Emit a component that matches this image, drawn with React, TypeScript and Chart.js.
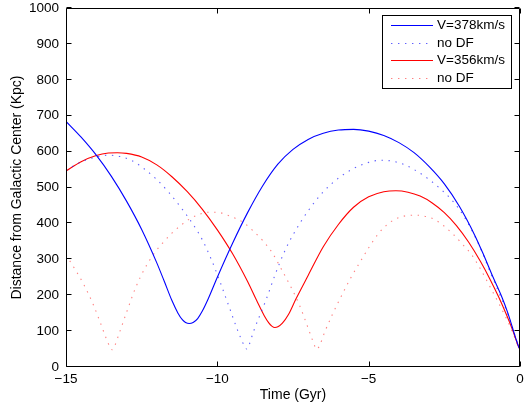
import React, { useEffect, useRef } from 'react';
import { Chart, registerables } from 'chart.js';

Chart.register(...registerables);

// V=378km/s (blue solid)
const blueTime = [-15, -14.5, -14, -13.5, -13, -12.5, -12, -11.75, -11.5, -11.3, -11.15, -11.05, -10.93, -10.8, -10.65, -10.5, -10.3, -10, -9.5, -9, -8.5, -8, -7.5, -7, -6.5, -6, -5.5, -5, -4.5, -4, -3.5, -3, -2.5, -2, -1.5, -1.2, -0.9, -0.6, -0.4, -0.25, -0.12, -0.04, 0];
const blueDist = [684, 640, 590, 531, 462, 383, 290, 238, 185, 150, 131, 124, 121, 124, 135, 155, 190, 250, 344, 430, 505, 565, 606, 634, 651, 660, 662, 657, 645, 625, 597, 558, 510, 447, 368, 312, 252, 195, 150, 110, 75, 56, 50];

// no DF (blue dotted)
const blueNoDfTime = [-15, -14.5, -14, -13.6, -13.2, -12.8, -12.4, -12, -11.6, -11.2, -10.8, -10.5, -10.2, -9.9, -9.6, -9.3, -9.1, -9.03, -8.95, -8.8, -8.6, -8.4, -8.1, -7.8, -7.5, -7, -6.5, -6, -5.5, -5, -4.6, -4.2, -3.8, -3.4, -3, -2.6, -2.2, -1.9, -1.6, -1.3, -1, -0.7, -0.45, -0.25, -0.12, -0.04, 0];
const blueNoDfDist = [548, 571, 585, 590, 586, 574, 551, 522, 486, 444, 397, 355, 300, 235, 165, 96, 58, 50, 62, 100, 143, 185, 255, 318, 368, 435, 488, 526, 553, 570, 576, 573, 563, 545, 522, 494, 460, 426, 382, 330, 268, 208, 158, 110, 76, 56, 50];

// V=356km/s (red solid)
const redTime = [-15, -14.5, -14, -13.6, -13.3, -13, -12.5, -12, -11.5, -11, -10.5, -10, -9.5, -9, -8.7, -8.45, -8.3, -8.2, -8.1, -8, -7.85, -7.65, -7.4, -7, -6.5, -6, -5.5, -5, -4.5, -4.1, -3.7, -3.3, -2.9, -2.5, -2.1, -1.7, -1.3, -1, -0.7, -0.45, -0.25, -0.12, -0.04, 0];
const redDist = [546, 572, 589, 596, 597, 595, 585, 563, 530, 489, 440, 382, 316, 238, 185, 143, 123, 114, 110, 112, 122, 146, 190, 255, 335, 397, 445, 474, 488, 491, 487, 476, 457, 430, 394, 348, 293, 246, 194, 146, 104, 73, 55, 50];

// no DF (red dotted)
const redNoDfTime = [-15, -14.7, -14.4, -14.1, -13.85, -13.65, -13.55, -13.48, -13.4, -13.25, -13, -12.7, -12.4, -12.1, -11.8, -11.5, -11.2, -10.9, -10.6, -10.3, -10, -9.7, -9.4, -9.1, -8.8, -8.5, -8.2, -7.9, -7.6, -7.3, -7.05, -6.9, -6.78, -6.72, -6.62, -6.45, -6.2, -5.9, -5.6, -5.3, -5, -4.7, -4.4, -4.1, -3.8, -3.45, -3.1, -2.8, -2.5, -2.2, -1.9, -1.6, -1.3, -1, -0.7, -0.45, -0.25, -0.12, -0.04, 0];
const redNoDfDist = [312, 272, 228, 174, 120, 75, 56, 48, 57, 92, 152, 221, 274, 315, 346, 373, 395, 413, 425, 431, 431, 424, 414, 400, 378, 352, 320, 275, 228, 175, 120, 85, 58, 49, 60, 98, 146, 198, 247, 290, 332, 369, 396, 413, 421, 423, 419, 410, 392, 369, 342, 313, 272, 225, 177, 135, 98, 70, 54, 50];

const seriesLabels = ['V=378km/s', 'no DF', 'V=356km/s', 'no DF'];
const xTicks = [-15, -10, -5, 0];
const yTicks = [0, 100, 200, 300, 400, 500, 600, 700, 800, 900, 1000];

const FONT = '"Liberation Sans", Arial, Helvetica, sans-serif';

const zip = (xs: number[], ys: number[]) => xs.map((x, i) => ({ x, y: ys[i] }));
const fmt = (v: number) => String(v).replace('-', '\u2212');

const BLUE = '#0000ff';
const RED = '#ff0000';
const BLUE_DOT = 'rgba(40,40,255,0.75)';
const RED_DOT = 'rgba(255,60,60,0.65)';
const DASH = [1.4, 5.6];

const framePlugin = {
  id: 'matlabFrame',
  afterDatasetsDraw(chart: any) {
    const { ctx, chartArea: a, scales } = chart;
    ctx.save();
    ctx.strokeStyle = '#000';
    ctx.lineWidth = 1;
    const L = Math.round(a.left) + 0.5;
    const R = Math.round(a.right) - 0.5;
    const T = Math.round(a.top) + 0.5;
    const B = Math.round(a.bottom) - 0.5;
    ctx.beginPath();
    ctx.rect(L, T, R - L, B - T);
    ctx.stroke();
    const tl = 5;
    ctx.beginPath();
    for (const v of xTicks) {
      const px = Math.round(scales.x.getPixelForValue(v)) + 0.5;
      ctx.moveTo(px, B); ctx.lineTo(px, B - tl);
      ctx.moveTo(px, T); ctx.lineTo(px, T + tl);
    }
    for (const v of yTicks) {
      const py = Math.round(scales.y.getPixelForValue(v)) - 0.5;
      ctx.moveTo(L, py); ctx.lineTo(L + tl, py);
      ctx.moveTo(R, py); ctx.lineTo(R - tl, py);
    }
    ctx.stroke();

    // legend
    const bx = 382.5, by = 15.5, bw = 129, bh = 73;
    ctx.fillStyle = '#fff';
    ctx.fillRect(bx, by, bw, bh);
    ctx.strokeStyle = '#000';
    ctx.lineWidth = 1;
    ctx.strokeRect(bx, by, bw, bh);
    const rows = [25.5, 43, 60.5, 78];
    const lineRows = [25.5, 43.5, 60.5, 78.5];
    const colors = [BLUE, BLUE_DOT, RED, RED_DOT];
    chart.data.datasets.forEach((ds: any, i: number) => {
      ctx.beginPath();
      ctx.strokeStyle = colors[i];
      ctx.lineWidth = 1.1;
      ctx.setLineDash(ds.borderDash ? ds.borderDash : []);
      ctx.moveTo(391, lineRows[i]);
      ctx.lineTo(433, lineRows[i]);
      ctx.stroke();
      ctx.setLineDash([]);
      ctx.fillStyle = '#000';
      ctx.font = `13.5px ${FONT}`;
      ctx.textAlign = 'left';
      ctx.textBaseline = 'middle';
      ctx.fillText(ds.label, 437, rows[i]);
    });
    ctx.restore();
  },
};

export default function App() {
  const ref = useRef<HTMLCanvasElement | null>(null);
  useEffect(() => {
    if (!ref.current) return;
    const tickFont = { family: FONT, size: 13.5 };
    const titleFont = { family: FONT, size: 14 };
    const chart = new Chart(ref.current, {
      type: 'line',
      data: {
        datasets: [
          { label: seriesLabels[0], data: zip(blueTime, blueDist), borderColor: BLUE, borderWidth: 1.1 },
          { label: seriesLabels[1], data: zip(blueNoDfTime, blueNoDfDist), borderColor: BLUE_DOT, borderWidth: 1.1, borderDash: DASH },
          { label: seriesLabels[2], data: zip(redTime, redDist), borderColor: RED, borderWidth: 1.1 },
          { label: seriesLabels[3], data: zip(redNoDfTime, redNoDfDist), borderColor: RED_DOT, borderWidth: 1.1, borderDash: DASH },
        ],
      } as any,
      options: {
        animation: false,
        responsive: false,
        maintainAspectRatio: false,
        layout: { padding: 0 },
        elements: {
          point: { radius: 0 },
          line: { cubicInterpolationMode: 'monotone', fill: false },
        },
        plugins: { legend: { display: false }, tooltip: { enabled: false } },
        scales: {
          x: {
            type: 'linear',
            min: -15,
            max: 0,
            afterBuildTicks: (s: any) => { s.ticks = xTicks.map((v) => ({ value: v })); },
            ticks: { callback: (v: any) => fmt(v), color: '#000', font: tickFont, padding: 4, maxRotation: 0, autoSkip: false },
            grid: { display: false, drawTicks: false },
            border: { display: false },
            title: { display: true, text: 'Time (Gyr)', color: '#000', font: titleFont, padding: 0 },
            afterFit: (s: any) => { s.height = 37; s.paddingLeft = 0; s.paddingRight = 4; },
          },
          y: {
            type: 'linear',
            min: 0,
            max: 1000,
            afterBuildTicks: (s: any) => { s.ticks = yTicks.map((v) => ({ value: v })); },
            ticks: { callback: (v: any) => fmt(v), color: '#000', font: tickFont, padding: 7, autoSkip: false },
            grid: { display: false, drawTicks: false },
            border: { display: false },
            title: { display: true, text: 'Distance from Galactic Center (Kpc)', color: '#000', font: titleFont, padding: { top: 9, bottom: 0 } },
            afterFit: (s: any) => { s.width = 66; s.paddingTop = 8; s.paddingBottom = 0; },
          },
        },
      } as any,
      plugins: [framePlugin],
    });
    return () => chart.destroy();
  }, []);
  return (
    <div style={{ position: 'fixed', left: 0, top: 0, width: 524, height: 404, background: '#fff' }}>
      <canvas ref={ref} width={524} height={404} style={{ width: 524, height: 404, display: 'block' }} />
    </div>
  );
}
